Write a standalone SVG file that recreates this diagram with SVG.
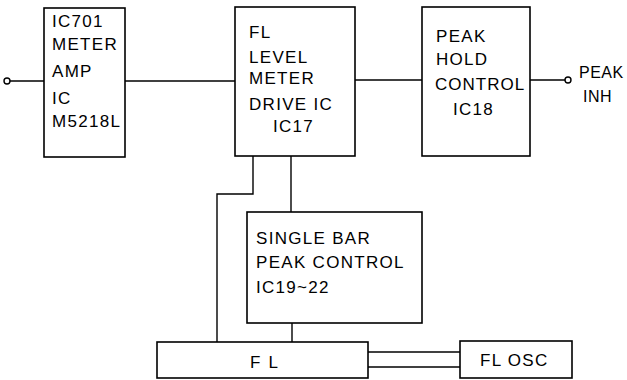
<svg xmlns="http://www.w3.org/2000/svg" width="627" height="380" viewBox="0 0 627 380">
<style>
.box{fill:#fff;stroke:#000;stroke-width:1.6}
.ln{fill:none;stroke:#000;stroke-width:1.4}
.term{fill:#fff;stroke:#000;stroke-width:1.4}
text{font-family:"Liberation Sans",Arial,sans-serif;font-size:17px;letter-spacing:1.3px;fill:#000}
.sm{font-size:16px;letter-spacing:0.5px}
</style>
<rect width="627" height="380" fill="#fff"/>
<g id="connectors">
<line class="ln" x1="10" y1="81" x2="44" y2="81"/>
<line class="ln" x1="125" y1="81" x2="235" y2="81"/>
<line class="ln" x1="355" y1="80" x2="422" y2="80"/>
<line class="ln" x1="530" y1="80" x2="565" y2="80"/>
<polyline class="ln" points="253,156 253,194 217,194 217,342"/>
<line class="ln" x1="291" y1="156" x2="291" y2="212"/>
<line class="ln" x1="292" y1="323" x2="292" y2="342"/>
<line class="ln" x1="368" y1="352" x2="460" y2="352"/>
<line class="ln" x1="368" y1="367" x2="460" y2="367"/>
</g>
<g id="in_terminal"><circle class="term" cx="7" cy="81" r="3"/></g>
<g id="out_terminal">
<circle class="term" cx="568" cy="80" r="3"/>
<text class="sm" x="579" y="78">PEAK</text>
<text class="sm" x="583" y="102">INH</text>
</g>
<g id="ic701">
<rect class="box" x="44" y="8" width="81" height="149"/>
<text x="52" y="27">IC701</text>
<text x="52" y="50">METER</text>
<text x="52" y="77">AMP</text>
<text x="52" y="104">IC</text>
<text x="52" y="127">M5218L</text>
</g>
<g id="ic17">
<rect class="box" x="235" y="7" width="120" height="149"/>
<text x="249" y="38">FL</text>
<text x="249" y="63">LEVEL</text>
<text x="249" y="84">METER</text>
<text x="249" y="110">DRIVE IC</text>
<text x="273" y="132">IC17</text>
</g>
<g id="ic18">
<rect class="box" x="422" y="7" width="108" height="149"/>
<text x="436" y="42">PEAK</text>
<text x="436" y="65">HOLD</text>
<text x="435" y="90" style="letter-spacing:1px">CONTROL</text>
<text x="453" y="115">IC18</text>
</g>
<g id="ic19_22">
<rect class="box" x="247" y="212" width="175" height="111"/>
<text x="256" y="244">SINGLE BAR</text>
<text x="256" y="268">PEAK CONTROL</text>
<text x="256" y="293">IC19~22</text>
</g>
<g id="fl">
<rect class="box" x="157" y="342" width="211" height="36"/>
<text x="250" y="368" style="letter-spacing:8px">FL</text>
</g>
<g id="fl_osc">
<rect class="box" x="460" y="341" width="112" height="37"/>
<text x="480" y="366">FL OSC</text>
</g>
</svg>
